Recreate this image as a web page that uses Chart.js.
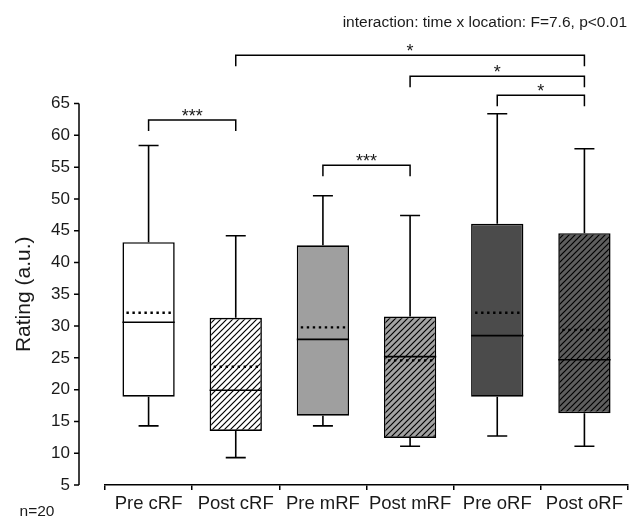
<!DOCTYPE html>
<html>
<head>
<meta charset="utf-8">
<script src="https://cdn.jsdelivr.net/npm/chart.js@4.4.1/dist/chart.umd.min.js"></script>
<style>
  html, body { margin: 0; padding: 0; background: #fff; }
</style>
</head>
<body>
<canvas id="ratingChart" width="630" height="522"></canvas>
<script>
    // Values (rating, a.u.)
    const categories = ['Pre cRF', 'Post cRF', 'Pre mRF', 'Post mRF', 'Pre oRF', 'Post oRF'];
    const whiskerLow = [14.3, 9.3, 14.3, 11.1, 12.7, 11.1];
    const q1 = [18.9, 13.5, 15.9, 12.4, 18.9, 16.3];
    const median = [30.6, 19.9, 27.9, 25.2, 28.5, 24.7];
    const mean = [32.1, 23.6, 29.8, 24.6, 32.1, 29.4];
    const q3 = [43.2, 31.3, 42.7, 31.5, 46.1, 44.6];
    const whiskerHigh = [58.4, 44.2, 50.5, 47.4, 63.4, 57.9];
    const yTicks = [5, 10, 15, 20, 25, 30, 35, 40, 45, 50, 55, 60, 65];

    // Significance brackets: from group, to group, bracket level, label
    const bracketFrom = [0, 2, 1, 3, 4];
    const bracketTo = [1, 3, 5, 5, 5];
    const bracketLevel = [62.4, 55.3, 72.6, 69.3, 66.3];
    const bracketLabel = ['***', '***', '*', '*', '*'];

    const titleText = 'interaction: time x location: F=7.6, p<0.01';
    const yTitle = 'Rating (a.u.)';
    const nText = 'n=20';

    const FONT = "'Liberation Sans', Arial, sans-serif";
    const INK = '#1a1a1a';

    // diagonal hatch fill for the "Post" boxes
    function hatch(bg) {
        const size = 6;
        const c = document.createElement('canvas');
        c.width = size;
        c.height = size;
        const g = c.getContext('2d');
        g.fillStyle = bg;
        g.fillRect(0, 0, size, size);
        g.strokeStyle = '#000';
        g.lineWidth = 1.2;
        g.beginPath();
        g.moveTo(0, size); g.lineTo(size, 0);
        g.moveTo(-2, 2); g.lineTo(2, -2);
        g.moveTo(size - 2, size + 2); g.lineTo(size + 2, size - 2);
        g.stroke();
        return g.createPattern(c, 'repeat');
    }

    const fills = ['#ffffff', hatch('#ffffff'), '#9f9f9f', hatch('#a3a3a3'), '#4b4b4b', hatch('#5e5e5e')];

    // whiskers, medians and dotted means on top of the floating bars
    const boxParts = {
        id: 'boxParts',
        afterDatasetsDraw(chart) {
            const { ctx, scales: { y } } = chart;
            const meta = chart.getDatasetMeta(0);
            ctx.save();
            ctx.strokeStyle = '#000';
            meta.data.forEach((bar, i) => {
                const cx = bar.x;
                const half = bar.width / 2;
                const yHi = y.getPixelForValue(whiskerHigh[i]);
                const yLo = y.getPixelForValue(whiskerLow[i]);
                ctx.setLineDash([]);
                ctx.lineWidth = 1.6;
                ctx.beginPath();
                ctx.moveTo(cx, y.getPixelForValue(q3[i]));
                ctx.lineTo(cx, yHi);
                ctx.moveTo(cx - 10, yHi);
                ctx.lineTo(cx + 10, yHi);
                ctx.moveTo(cx, y.getPixelForValue(q1[i]));
                ctx.lineTo(cx, yLo);
                ctx.moveTo(cx - 10, yLo);
                ctx.lineTo(cx + 10, yLo);
                const yMed = y.getPixelForValue(median[i]);
                ctx.moveTo(cx - half, yMed);
                ctx.lineTo(cx + half, yMed);
                ctx.stroke();

                const yMean = y.getPixelForValue(mean[i]);
                ctx.lineWidth = 2.4;
                ctx.setLineDash([2.4, 3.6]);
                ctx.beginPath();
                ctx.moveTo(cx - half + 4, yMean);
                ctx.lineTo(cx + half - 3, yMean);
                ctx.stroke();
            });
            ctx.restore();
        }
    };

    // detached y axis line, brackets and the loose texts
    const extras = {
        id: 'extras',
        afterDraw(chart) {
            const { ctx, chartArea, scales: { x, y } } = chart;
            ctx.save();
            ctx.strokeStyle = '#000';
            ctx.lineWidth = 1.5;
            const ax = chartArea.left - 26;
            const yBottom = y.getPixelForValue(yTicks[0]);
            const yTop = y.getPixelForValue(yTicks[yTicks.length - 1]);
            ctx.beginPath();
            ctx.moveTo(ax, yBottom);
            ctx.lineTo(ax, yTop);
            yTicks.forEach(t => {
                const ty = y.getPixelForValue(t);
                ctx.moveTo(ax, ty);
                ctx.lineTo(ax - 5, ty);
            });
            ctx.stroke();

            ctx.fillStyle = INK;
            ctx.textAlign = 'center';
            ctx.textBaseline = 'alphabetic';
            ctx.font = '18px ' + FONT;
            bracketFrom.forEach((from, k) => {
                const x1 = x.getPixelForValue(from);
                const x2 = x.getPixelForValue(bracketTo[k]);
                const by = y.getPixelForValue(bracketLevel[k]);
                ctx.beginPath();
                ctx.moveTo(x1, by + 11);
                ctx.lineTo(x1, by);
                ctx.lineTo(x2, by);
                ctx.lineTo(x2, by + 11);
                ctx.stroke();
                ctx.fillText(bracketLabel[k], (x1 + x2) / 2, by + 2);
            });

            // y title centred on the tick range
            ctx.save();
            ctx.font = '21px ' + FONT;
            ctx.translate(30, (yBottom + yTop) / 2);
            ctx.rotate(-Math.PI / 2);
            ctx.textAlign = 'center';
            ctx.textBaseline = 'alphabetic';
            ctx.fillText(yTitle, 0, 0);
            ctx.restore();

            ctx.textBaseline = 'middle';
            ctx.font = '15.5px ' + FONT;
            ctx.textAlign = 'right';
            ctx.fillText(titleText, 627, 23);
            ctx.textAlign = 'center';
            ctx.fillText(nText, 37, 512);
            ctx.restore();
        }
    };

    const ctx = document.getElementById('ratingChart').getContext('2d');
    new Chart(ctx, {
        type: 'bar',
        data: {
            labels: categories,
            datasets: [{
                label: 'IQR',
                data: q1.map((v, i) => [v, q3[i]]),
                backgroundColor: fills,
                borderColor: '#000',
                borderWidth: 1.6,
                borderSkipped: false,
                barPercentage: 0.6,
                categoryPercentage: 1
            }]
        },
        options: {
            responsive: false,
            animation: false,
            layout: {
                padding: { top: 40, left: 0, right: 2, bottom: 0 }
            },
            plugins: {
                legend: { display: false },
                tooltip: { enabled: false }
            },
            scales: {
                x: {
                    afterFit: scale => { scale.height = 37; },
                    grid: {
                        display: true,
                        drawOnChartArea: false,
                        drawTicks: true,
                        tickLength: 5,
                        color: '#000',
                        lineWidth: 1.5
                    },
                    border: { display: true, color: '#000', width: 1.5 },
                    ticks: {
                        color: INK,
                        font: { family: FONT, size: 18.5 },
                        padding: 3,
                        maxRotation: 0,
                        autoSkip: false
                    }
                },
                y: {
                    min: 5,
                    max: 75,
                    afterFit: scale => { scale.width = 105; },
                    afterBuildTicks: scale => { scale.ticks = yTicks.map(v => ({ value: v })); },
                    grid: { display: false, drawTicks: true, tickLength: 31 },
                    border: { display: false },
                    ticks: {
                        color: INK,
                        font: { family: FONT, size: 17 },
                        padding: 4
                    }
                }
            }
        },
        plugins: [boxParts, extras]
    });
</script>
</body>
</html>
